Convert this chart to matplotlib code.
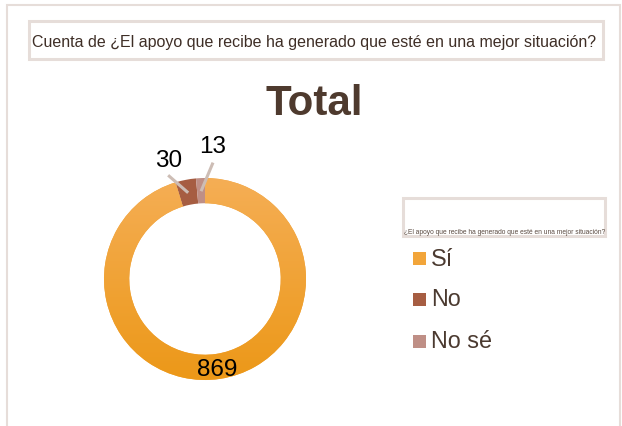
import numpy as np
import matplotlib
matplotlib.use("Agg")
import matplotlib.pyplot as plt
from matplotlib.patches import Rectangle
from matplotlib.colors import LinearSegmentedColormap

plt.rcParams['font.family'] = ['Liberation Sans', 'DejaVu Sans']

# ---- data ----
categories = ["Sí", "No", "No sé"]
values = [869, 30, 13]
header_text = "Cuenta de ¿El apoyo que recibe ha generado que esté en una mejor situación?"
chart_title = "Total"
legend_title = "¿El apoyo que recibe ha generado que esté en una mejor situación?"

colors = ["#F2A53A", "#A65D42", "#BF8F86"]
text_dark = "#4B3A30"
border_col = "#E6DDD9"

W, H = 622, 426
fig = plt.figure(figsize=(W / 100, H / 100), dpi=100)
fig.patch.set_facecolor("white")

def px(x0, y0, x1, y1):
    """pixel box (top-left origin) to figure fraction rect"""
    return [x0 / W, 1 - y1 / H, (x1 - x0) / W, (y1 - y0) / H]

# outer border
fig.patches.append(Rectangle((7.5 / W, -0.05), (619.5 - 7.5) / W, 1 - 4.5 / H + 0.05,
                             transform=fig.transFigure, fill=False,
                             edgecolor=border_col, linewidth=1.5))
# header box
fig.patches.append(Rectangle((28.5 / W, 1 - 58.5 / H), (602.5 - 28.5) / W, (58.5 - 21) / H,
                             transform=fig.transFigure, fill=False,
                             edgecolor=border_col, linewidth=2.2))
fig.text(314 / W, 1 - 42 / H, header_text, ha="center", va="center",
         fontsize=11.5, color="#3E2E26")

# title
fig.text(314 / W, 1 - 104 / H, chart_title, ha="center", va="center",
         fontsize=30.3, fontweight="bold", color="#4E3A2E")

# donut
cx, cy, R = 205, 279, 101
ax = fig.add_axes(px(cx - R, cy - R, cx + R, cy + R))
wedges, _ = ax.pie(values, colors=colors, startangle=90, counterclock=False,
                   radius=1.0, wedgeprops=dict(width=0.25, linewidth=0))
ax.set_xlim(-1, 1)
ax.set_ylim(-1, 1)
ax.set_aspect("equal")
ax.axis("off")

# gradient fill for the largest wedge
grad = np.linspace(0, 1, 256).reshape(-1, 1)
cmap = LinearSegmentedColormap.from_list("g", ["#F5AE55", "#EC9818"])
im = ax.imshow(grad, extent=[-1, 1, -1, 1], origin="upper", cmap=cmap,
               aspect="auto", zorder=wedges[0].get_zorder() + 0.1)
im.set_clip_path(wedges[0])

# data labels
total = sum(values)
cum = 0
mids = []
for v in values:
    mids.append(90 - (cum + v / 2) / total * 360)
    cum += v

def pol(a, r):
    return r * np.cos(np.radians(a)), r * np.sin(np.radians(a))

line_col = "#CDBDB5"
# label for the big slice: inside the ring
x, y = pol(mids[0], 0.9)
ax.text(x - 0.01, y - 0.01, str(values[0]), ha="center", va="center", fontsize=17.5,
        color="black", zorder=10)
# small slices with leader lines
offsets = [None, (8.5, 1.09, 0.14), (-6.5, 1.155, 0.15)]
for i in (1, 2):
    da, rl, dy = offsets[i]
    x0, y0 = pol(mids[i], 0.87)
    x1, y1 = pol(mids[i] + da, rl)
    ax.plot([x0, x1], [y0, y1], color=line_col, linewidth=2.2,
            solid_capstyle="butt", zorder=10, clip_on=False)
    ax.text(x1, y1 + dy, str(values[i]), ha="center", va="center",
            fontsize=17.5, color="black", zorder=10, clip_on=False)

# legend title box
fig.patches.append(Rectangle((402.5 / W, 1 - 236.5 / H), (605 - 402.5) / W, (236.5 - 198) / H,
                             transform=fig.transFigure, fill=False,
                             edgecolor=border_col, linewidth=2.2))
fig.text(504.5 / W, 1 - 232.5 / H, legend_title, ha="center", va="center",
         fontsize=4.75, color="#5A4A40")

# legend entries
ys = [258, 299, 341]
for cat, col, yy in zip(categories, colors, ys):
    fig.patches.append(Rectangle((413 / W, 1 - (yy + 6.5) / H), 13 / W, 13 / H,
                                 transform=fig.transFigure, facecolor=col,
                                 edgecolor="none"))
    fig.text(431 / W, 1 - (yy + 1) / H, cat, ha="left", va="center",
             fontsize=16.8, color=text_dark)

fig.savefig("out.png", dpi=100, facecolor="white")
